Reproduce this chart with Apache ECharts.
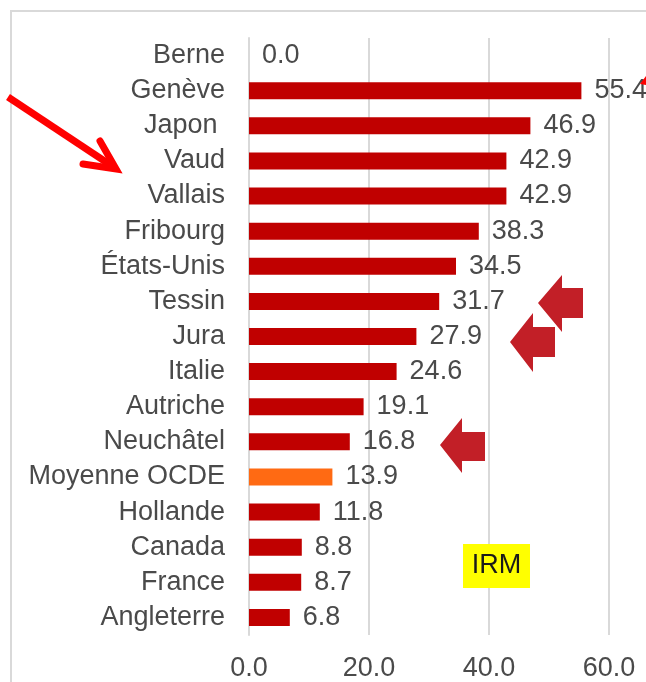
<!DOCTYPE html>
<html>
	<head>
		<meta charset="utf-8">
		<title>IRM</title>
		<script src="https://cdn.jsdelivr.net/npm/echarts/dist/echarts.min.js"></script>
		<style>
			body { margin: 0; background: #fff; }
		</style>
	</head>
	<body>
		<div id="main" style="width: 646px;height:682px;"></div>
	</body>
	<script type="text/javascript">

		// données (du haut vers le bas)
		var regions = ["Berne", "Genève", "Japon ", "Vaud", "Vallais", "Fribourg", "États-Unis", "Tessin",
			"Jura", "Italie", "Autriche", "Neuchâtel", "Moyenne OCDE", "Hollande", "Canada", "France", "Angleterre"];
		var irmValues = [0.0, 55.4, 46.9, 42.9, 42.9, 38.3, 34.5, 31.7, 27.9, 24.6, 19.1, 16.8, 13.9, 11.8, 8.8, 8.7, 6.8];
		var xTicks = [0, 20, 40, 60];
		var highlighted = "Moyenne OCDE";

		var textColor = '#4a4a4a';
		var font = '"Liberation Sans", Arial, sans-serif';

		var barData = [];
		for (var i = 0; i < regions.length; i++) {
			barData.push({
				value: irmValues[i],
				itemStyle: { color: regions[i] === highlighted ? '#FF6A13' : '#C00000' }
			});
		}

		// flèches d'annotation (pas des données)
		var blockArrow = function (tipX, tipY, headX, headTop, headBottom, tailTop, tailBottom, tailX) {
			return {
				type: 'polygon',
				shape: { points: [[tipX, tipY], [headX, headTop], [headX, tailTop], [tailX, tailTop],
					[tailX, tailBottom], [headX, tailBottom], [headX, headBottom]] },
				style: { fill: '#C21F27' },
				z: 10
			};
		};

		var myChart = echarts.init(document.getElementById('main'));

		var option = {
			backgroundColor: '#fff',
			animation: false,
			textStyle: { fontFamily: font },
			grid: {
				left: 249,
				right: 37,
				top: 38,
				bottom: 47
			},
			xAxis: {
				type: 'value',
				min: xTicks[0],
				max: xTicks[xTicks.length - 1],
				interval: 20,
				axisLine: { show: false },
				axisTick: { show: false },
				axisLabel: {
					color: textColor,
					fontSize: 27,
					margin: 20,
					formatter: function (v) { return v.toFixed(1); }
				},
				splitLine: { lineStyle: { color: '#d9d9d9', width: 2 } }
			},
			yAxis: {
				type: 'category',
				inverse: true,
				data: regions,
				axisLine: { show: true, lineStyle: { color: '#d9d9d9', width: 2 } },
				axisTick: { show: false },
				axisLabel: { color: textColor, fontSize: 27, margin: 24 }
			},
			series: [{
				name: 'IRM',
				type: 'bar',
				data: barData,
				barWidth: 17,
				label: {
					show: true,
					position: 'right',
					distance: 13,
					color: textColor,
					fontSize: 27,
					formatter: function (p) { return p.value.toFixed(1); }
				}
			}],
			graphic: [
				{
					type: 'rect',
					shape: { x: 11, y: 11, width: 800, height: 800 },
					style: { fill: 'none', stroke: '#d9d9d9', lineWidth: 2 },
					silent: true
				},
				blockArrow(538, 303, 562, 275, 332, 288, 318, 583),
				blockArrow(510, 342, 533, 313, 372, 327, 357, 555),
				blockArrow(440, 445, 462, 418, 473, 432, 461, 485),
				{
					type: 'polyline',
					shape: { points: [[8, 97], [112, 166]] },
					style: { stroke: '#FF0000', lineWidth: 7, fill: 'none' },
					z: 10
				},
				{
					type: 'polyline',
					shape: { points: [[83, 164], [116, 169], [100, 141]] },
					style: { stroke: '#FF0000', lineWidth: 7, fill: 'none', lineJoin: 'miter', lineCap: 'round' },
					z: 10
				},
				{
					type: 'polygon',
					shape: { points: [[640, 84], [646, 76], [646, 85]] },
					style: { fill: '#FF0000' },
					z: 10
				},
				{
					type: 'rect',
					shape: { x: 463, y: 544, width: 67, height: 44 },
					style: { fill: '#FFFF00' },
					z: 10
				},
				{
					type: 'text',
					x: 496.5,
					y: 566,
					style: {
						text: 'IRM',
						fill: '#1a1a1a',
						font: '27px ' + font,
						textAlign: 'center',
						textVerticalAlign: 'middle'
					},
					z: 11
				}
			]
		};

		myChart.setOption(option);

	</script>
</html>
